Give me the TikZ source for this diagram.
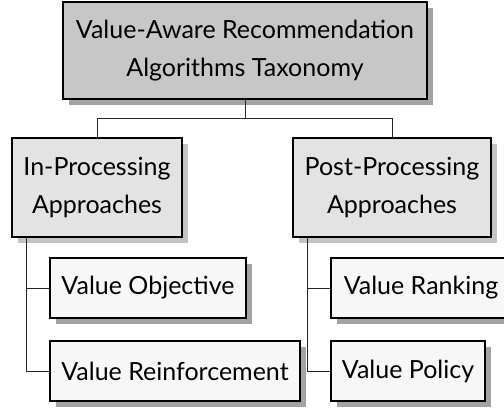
\documentclass[tikz,border=0pt]{standalone}
\usepackage{fontspec}
\setmainfont{Lato}
\usetikzlibrary{shadows}
\begin{document}
\begin{tikzpicture}[x=1pt,y=-1pt,
  box/.style={draw=black, line width=1.2pt, align=center, inner sep=0pt,
    font={\fontsize{25}{37.5}\selectfont}, text=black},
  lvlA/.style={box, fill=black!22,
    drop shadow={shadow xshift=6pt, shadow yshift=-6pt, fill=black!36, opacity=1}},
  lvlB/.style={box, fill=black!11,
    drop shadow={shadow xshift=6pt, shadow yshift=-6pt, fill=black!23, opacity=1}},
  lvlC/.style={box, fill=black!3,
    drop shadow={shadow xshift=6pt, shadow yshift=-6pt, fill=black!36, opacity=1}},
  link/.style={draw=black!85, line width=0.9pt}]
\useasboundingbox (0,0) rectangle (504,410);
\clip (0,0) rectangle (504,410);

% tree connectors
\coordinate (bar) at (245,118);
\coordinate (barL) at (97,118);
\coordinate (barR) at (392,118);
\coordinate (trunkL) at (26,237);
\coordinate (trunkR) at (307,237);

\node[lvlA, minimum width=364pt, minimum height=97pt] (root) at (245,50.5)
  {Value-Aware Recommendation\\Algorithms Taxonomy};
\node[lvlB, minimum width=170pt, minimum height=99pt] (inproc) at (97,187.5)
  {In-Processing\\Approaches};
\node[lvlB, minimum width=198pt, minimum height=99pt] (postproc) at (392,187.5)
  {Post-Processing\\Approaches};
\node[lvlC, minimum width=196pt, minimum height=60pt] (vobj) at (148,288)
  {Value Objective};
\node[lvlC, minimum width=250pt, minimum height=60pt] (vreinf) at (175,371)
  {Value Reinforcement};
\node[lvlC, minimum width=180pt, minimum height=60pt] (vrank) at (421,288)
  {Value Ranking};
\node[lvlC, minimum width=154pt, minimum height=60pt] (vpol) at (408,371)
  {Value Policy};

\draw[link] (root.south) -- (root.south |- bar);
\draw[link] (barL) -- (barR);
\draw[link] (barL) -- (inproc.north);
\draw[link] (barR) -- (postproc.north);

\draw[link] (trunkL) -- (trunkL |- vreinf.west) -- (vreinf.west);
\draw[link] (trunkL |- vobj.west) -- (vobj.west);
\draw[link] (trunkR) -- (trunkR |- vpol.west) -- (vpol.west);
\draw[link] (trunkR |- vrank.west) -- (vrank.west);
\end{tikzpicture}
\end{document}
